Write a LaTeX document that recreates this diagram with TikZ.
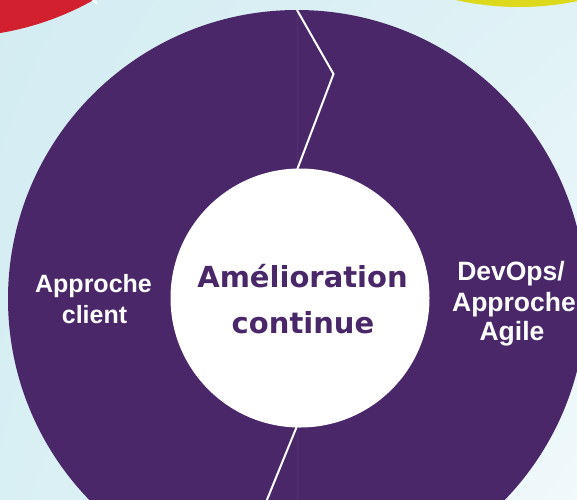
\documentclass[tikz,border=0pt]{standalone}
\usepackage{fontspec}
\usetikzlibrary{shadings}
\setmainfont{Liberation Sans}
\newfontfamily\centrefont{DejaVu Sans}
\definecolor{bgUL}{HTML}{D3ECF2}
\definecolor{bgUR}{HTML}{E0F2F6}
\definecolor{bgLL}{HTML}{D8EFF4}
\definecolor{bgLR}{HTML}{F0F9FB}
\definecolor{purp}{HTML}{4A2768}
\definecolor{seamc}{HTML}{533170}
\definecolor{redc}{HTML}{D2202F}
\definecolor{yelc}{HTML}{DDDA1D}
\tikzset{
  sidelabel/.style={text=white, font=\fontsize{25}{30}\selectfont\bfseries, anchor=base, inner sep=0pt},
  sidelabelR/.style={sidelabel, font=\fontsize{26.5}{30}\selectfont\bfseries},
  centrelabel/.style={text=purp, font=\centrefont\fontsize{29}{34}\selectfont\bfseries, anchor=base, inner sep=0pt},
  zigzag/.style={draw=white, line width=2pt},
}
\begin{document}
\begin{tikzpicture}[x=1pt,y=-1pt]
\useasboundingbox (0,0) rectangle (577,499);
\begin{scope}
\clip (0,0) rectangle (577,499);
\shade[upper left=bgUL, upper right=bgUR, lower left=bgLL, lower right=bgLR] (0,0) rectangle (577,499);
% corner discs
\fill[redc] (-48,-252) circle[radius=289pt];
\draw[zigzag] (91,-2) -- (97,3.5);
\fill[yelc] (519,-282) circle[radius=289pt];
% main disc
\fill[purp] (297,299) circle[radius=289pt];
\draw[seamc, line width=0.5pt] (297,10) -- (297,499);
% zigzag separators
\coordinate (zt1) at (297,10);
\coordinate (zt2) at (333.5,74);
\coordinate (zt3) at (297,170);
\coordinate (zb1) at (297,426);
\coordinate (zb2) at (262,512);
\draw[zigzag] (zt1) -- (zt2) -- (zt3);
\draw[zigzag] (zb1) -- (zb2);
% inner disc
\fill[white] (300,298) circle[radius=129.5pt];
\end{scope}
% labels
\node[centrelabel] (c1) at (302.5,287) {Amélioration};
\node[centrelabel] (c2) at (303,333) {continue};
\node[sidelabel] (l1) at (93.5,292) {Approche};
\node[sidelabel] (l2) at (94.5,323) {client};
\node[sidelabelR] (r1) at (511,280) {DevOps/};
\node[sidelabelR] (r2) at (514,311) {Approche};
\node[sidelabelR] (r3) at (512,340) {Agile};
\end{tikzpicture}
\end{document}
